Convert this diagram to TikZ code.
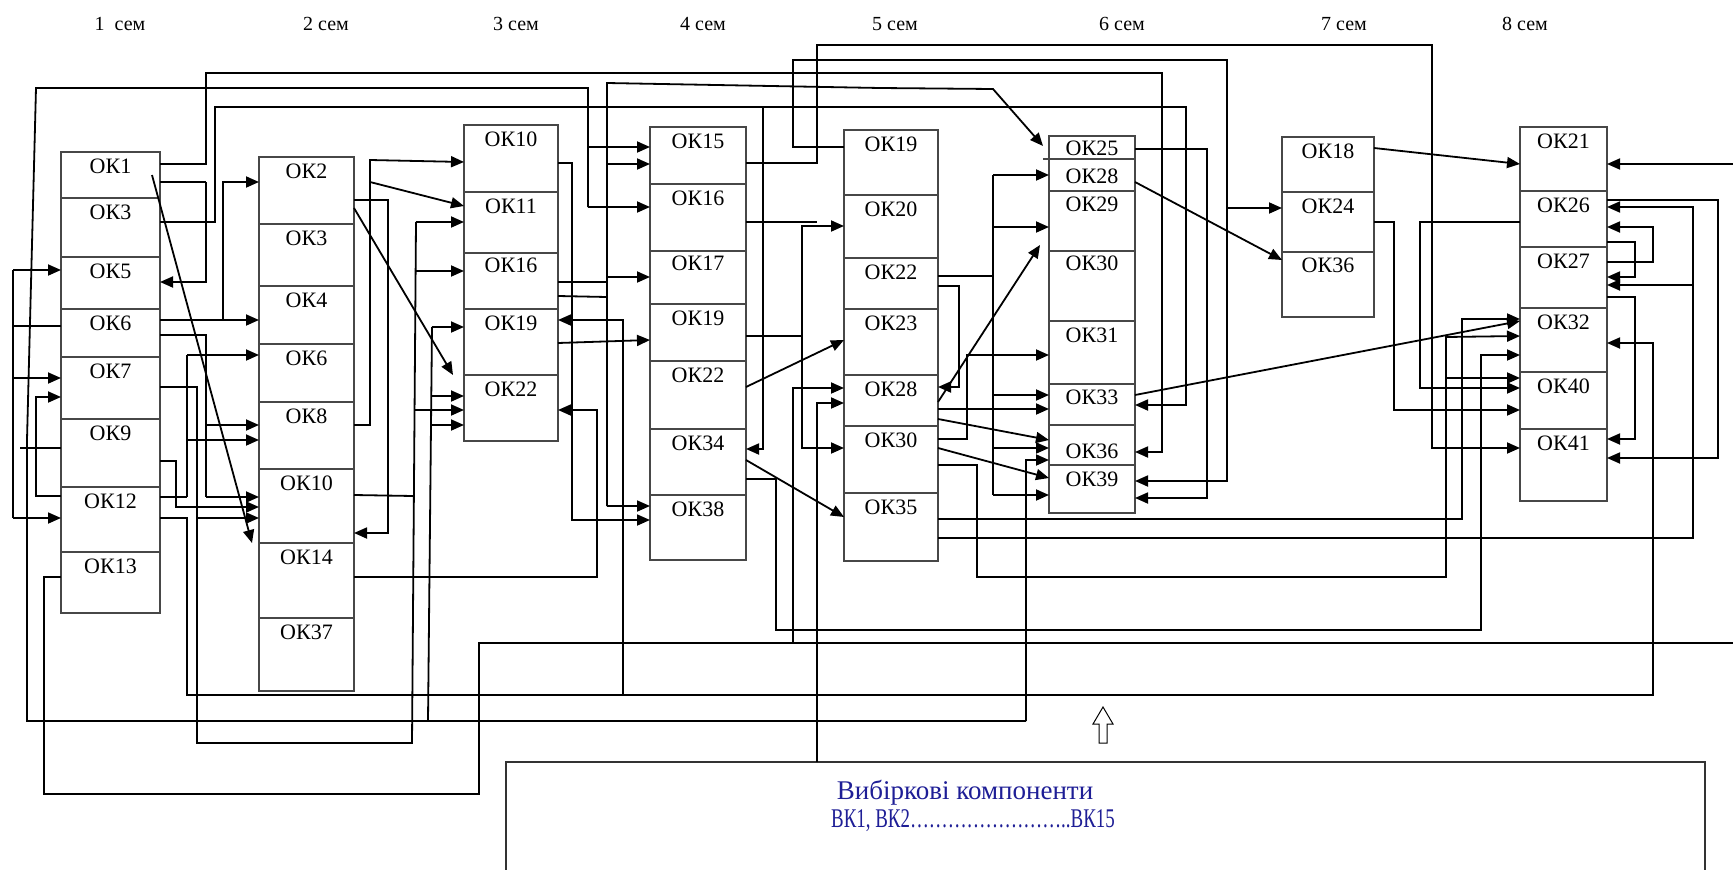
\documentclass[tikz,border=0pt]{standalone}
\usepackage{fontspec}
\usepackage{graphicx}
\setmainfont{Liberation Serif}
\usetikzlibrary{arrows.meta}
\definecolor{vkblue}{RGB}{30,30,150}
\newcommand\cellrow[7][14]{%
  \node[cell,minimum width={(#4-#3)*1pt},minimum height={(#6-#5)*1pt}] (#2) at (#3,#5) {};
  \node[lab] (#2t) at ({(#3+#4)/2},{#5+#1}) {#7};}
\begin{document}
\begin{tikzpicture}[x=1pt,y=-1pt,
  conn/.style={line width=1.8pt,black},
  arr/.style={conn,-{Triangle[length=13pt,width=11pt]}},
  cell/.style={draw=black!72,line width=1.1pt,anchor=north west,inner sep=0pt,outer sep=0pt},
  lab/.style={font=\fontsize{22}{25}\selectfont,inner sep=0pt},
  sem/.style={font=\fontsize{20}{22}\selectfont,inner sep=0pt},
  vk/.style={font=\fontsize{27}{30}\selectfont,text=vkblue,inner sep=0pt}]
\useasboundingbox (0,0) rectangle (1733,870);
\fill[white] (0,0) rectangle (1733,870);

% headers
\node[sem] (s1) at (120,24) {1\ \ сем};
\node[sem] (s2) at (326,24) {2 сем};
\node[sem] (s3) at (516,24) {3 сем};
\node[sem] (s4) at (703,24) {4 сем};
\node[sem] (s5) at (895,24) {5 сем};
\node[sem] (s6) at (1122,24) {6 сем};
\node[sem] (s7) at (1344,24) {7 сем};
\node[sem] (s8) at (1525,24) {8 сем};

% column 1
\cellrow{a1}{61}{160}{152}{198}{ОК1}
\cellrow{a2}{61}{160}{198}{257}{ОК3}
\cellrow{a3}{61}{160}{257}{309}{ОК5}
\cellrow{a4}{61}{160}{309}{357}{ОК6}
\cellrow{a5}{61}{160}{357}{419}{ОК7}
\cellrow{a6}{61}{160}{419}{487}{ОК9}
\cellrow{a7}{61}{160}{487}{552}{ОК12}
\cellrow{a8}{61}{160}{552}{613}{ОК13}
% column 2
\cellrow{b1}{259}{354}{157}{224}{ОК2}
\cellrow{b2}{259}{354}{224}{286}{ОК3}
\cellrow{b3}{259}{354}{286}{344}{ОК4}
\cellrow{b4}{259}{354}{344}{402}{ОК6}
\cellrow{b5}{259}{354}{402}{469}{ОК8}
\cellrow{b6}{259}{354}{469}{543}{ОК10}
\cellrow{b7}{259}{354}{543}{618}{ОК14}
\cellrow{b8}{259}{354}{618}{691}{ОК37}
% column 3
\cellrow{c1}{464}{558}{125}{192}{ОК10}
\cellrow{c2}{464}{558}{192}{253}{ОК11}
\cellrow[12]{c3}{464}{558}{253}{309}{ОК16}
\cellrow{c4}{464}{558}{309}{375}{ОК19}
\cellrow{c5}{464}{558}{375}{441}{ОК22}
% column 4
\cellrow{d1}{650}{746}{127}{184}{ОК15}
\cellrow{d2}{650}{746}{184}{251}{ОК16}
\cellrow[12]{d3}{650}{746}{251}{304}{ОК17}
\cellrow{d4}{650}{746}{304}{361}{ОК19}
\cellrow{d5}{650}{746}{361}{429}{ОК22}
\cellrow{d6}{650}{746}{429}{495}{ОК34}
\cellrow{d7}{650}{746}{495}{560}{ОК38}
% column 5
\cellrow{e1}{844}{938}{130}{195}{ОК19}
\cellrow{e2}{844}{938}{195}{258}{ОК20}
\cellrow{e3}{844}{938}{258}{309}{ОК22}
\cellrow{e4}{844}{938}{309}{375}{ОК23}
\cellrow{e5}{844}{938}{375}{426}{ОК28}
\cellrow{e6}{844}{938}{426}{493}{ОК30}
\cellrow{e7}{844}{938}{493}{561}{ОК35}
% column 6
\cellrow[12]{f1}{1049}{1135}{136}{159}{ОК25}
\cellrow[17]{f2}{1049}{1135}{159}{191}{ОК28}
\cellrow[13]{f3}{1049}{1135}{191}{251}{ОК29}
\cellrow[12]{f4}{1049}{1135}{251}{321}{ОК30}
\cellrow{f5}{1049}{1135}{321}{384}{ОК31}
\cellrow[13]{f6}{1049}{1135}{384}{425}{ОК33}
\cellrow[26]{f7}{1049}{1135}{425}{465}{ОК36}
\cellrow{f8}{1049}{1135}{465}{513}{ОК39}
\draw[draw=black!72,line width=1.1pt] (1043,159) -- (f1.south west);
% column 7
\cellrow{g1}{1282}{1374}{137}{192}{ОК18}
\cellrow{g2}{1282}{1374}{192}{252}{ОК24}
\cellrow[13]{g3}{1282}{1374}{252}{317}{ОК36}
% column 8
\cellrow{h1}{1520}{1607}{127}{191}{ОК21}
\cellrow{h2}{1520}{1607}{191}{247}{ОК26}
\cellrow{h3}{1520}{1607}{247}{308}{ОК27}
\cellrow{h4}{1520}{1607}{308}{372}{ОК32}
\cellrow{h5}{1520}{1607}{372}{429}{ОК40}
\cellrow{h6}{1520}{1607}{429}{501}{ОК41}

% ---------- connectors from column 1
\draw[arr] (a1.east|-0,164) -| (206,73) -| (1162,452) -- (f7.east|-0,452);
\draw[conn] (a1.east|-0,182) -- (206,182);
\draw[arr] (206,182) |- (a3.east|-0,282);
\draw[arr] (152,175) -- ([xshift=-7pt]b7.north west);
\draw[arr] (a2.east|-0,222) -| (215,107) -| (1186,405) -- (f6.east|-0,405);
\draw[arr] (763,107) |- (d6.east|-0,449);
\draw[conn] (a4.west|-0,326) -- (13,326);
\draw[conn] (13,270) -- (13,518);
\draw[arr] (13,270) -- (a3.west|-0,270);
\draw[arr] (13,378) -- (a5.west|-0,378);
\draw[arr] (13,518) -- (a7.west|-0,518);
\draw[arr] (a4.east|-0,320) -- (b3.west|-0,320);
\draw[arr] (223,320) |- (b1.west|-0,182);
\draw[conn] (a4.east|-0,335) -| (206,497);
\draw[arr] (206,425) -- (b5.west|-0,425);
\draw[arr] (206,497) -- (b6.west|-0,497);
\draw[conn] (a7.east|-0,497) -- (187,497);
\draw[conn] (187,355) -- (187,497);
\draw[arr] (187,355) -- (b4.west|-0,355);
\draw[arr] (187,440) -- (b5.west|-0,440);
\draw[arr] (a7.east|-0,518) -| (187,695) -| (1653,343) -- (h4.east|-0,343);
\draw[arr] (623,695) |- (c4.east|-0,320);
\draw[conn] (a5.east|-0,387) -| (197,743) -- (412,743) -- (416,222);
\draw[arr] (416,222) -- (c2.west|-0,222);
\draw[arr] (197,518) -- (b6.west|-0,518);
\draw[arr] (415,271) -- (c3.west|-0,271);
\draw[arr] (414,410) -- (c5.west|-0,410);
\draw[arr] (a6.east|-0,461) -| (176,507) -- (b6.west|-0,507);
\draw[conn] (20,448) -- (a6.west|-0,448);
\draw[arr] (a7.west|-0,496) -| (36,397) -- (a5.west|-0,397);
\draw[conn] (a8.west|-0,577) -| (44,794) -| (479,643) -- (1733,643);
\draw[arr] (793,643) |- (e5.west|-0,388);
\draw[conn] (1026,721) -- (27,721) -- (27,440) -- (36,88) -- (588,88) -- (588,207);
\draw[arr] (588,147) -- (d1.west|-0,147);
\draw[arr] (588,207) -- (d2.west|-0,207);
\draw[conn] (428,721) -- (432,327);
\draw[arr] (432,327) -- (c4.west|-0,327);
\draw[arr] (431,396) -- (c5.west|-0,396);
\draw[arr] (431,425) -- (c5.west|-0,425);

% ---------- column 2
\draw[arr] (b1.east|-0,208) -- ([xshift=-11pt]c5.north west);
\draw[arr] (b1.east|-0,200) -| (388,533) -- (b6.east|-0,533);
\draw[arr] (b5.east|-0,425) -| (370,160) -- (c1.west|-0,162);
\draw[arr] (370,182) -- (c2.west|-0,206);
\draw[conn] (b6.east|-0,495) -- (413,496);
\draw[arr] (b7.east|-0,577) -| (597,410) -- (c5.east|-0,410);

% ---------- column 3
\draw[arr] (c1.east|-0,163) -| (572,520) -- (d7.west|-0,520);
\draw[conn] (c3.east|-0,282) -- (607,282);
\draw[conn] (c3.east|-0,296) -- (607,297);
\draw[arr] (607,506) -- (607,83) -- (880,88) -- (993,89) -- ([shift={(-6,10)}]f1.north west);
\draw[arr] (607,164) -- (d1.west|-0,164);
\draw[arr] (607,277) -- (d3.west|-0,277);
\draw[arr] (607,506) -- (d7.west|-0,506);
\draw[arr] (c4.east|-0,343) -- (d4.west|-0,340);

% ---------- column 4
\draw[arr] (d1.east|-0,163) -| (817,45) -| (1432,448) -- (h6.west|-0,448);
\draw[conn] (d2.east|-0,222) -- (817,222);
\draw[conn] (d4.east|-0,336) -- (802,336);
\draw[arr] (802,336) |- (e2.west|-0,226);
\draw[arr] (802,336) |- (e6.west|-0,448);
\draw[arr] (d5.east|-0,387) -- (e4.west|-0,340);
\draw[arr] (d6.east|-0,460) -- (e7.west|-0,517);
\draw[arr] (d6.east|-0,479) -| (776,630) -| (1481,355) -- (h4.west|-0,355);

% ---------- column 5
\draw[arr] (e1.west|-0,147) -| (793,60) -| (1227,481) -- (f8.east|-0,481);
\draw[arr] (1227,208) -- (g2.west|-0,208);
\draw[conn] (e3.east|-0,276) -- (993,276);
\draw[conn] (993,175) -- (993,495);
\foreach \n/\y in {f2/175,f3/227,f6/395,f7/448,f8/495}
  \draw[arr] (993,\y) -- (\n.west|-0,\y);
\draw[arr] (e3.east|-0,286) -| (959,387) -- (e5.east|-0,387);
\draw[arr] (e6.east|-0,439) -| (967,355) -- (f5.west|-0,355);
\draw[arr] (e5.east|-0,402) -- ([shift={(-9,-6)}]f4.north west);
\draw[arr] (e5.east|-0,409) -- (f6.west|-0,409);
\draw[arr] (e5.east|-0,419) -- (f7.west|-0,440);
\draw[arr] (e6.east|-0,448) -- (f8.west|-0,478);
\draw[arr] (e6.east|-0,465) -| (977,577) -| (1446,337) -- (h4.west|-0,336);
\draw[arr] (1446,378) -- (h5.west|-0,378);
\draw[arr] (e7.east|-0,519) -| (1462,319) -- (h4.west|-0,319);
\draw[arr] (e7.east|-0,538) -| (1693,207) -- (h2.east|-0,207);
\draw[arr] (1693,285) -- (h3.east|-0,285);
\draw[arr] (1026,721) |- (f7.west|-0,460);

% ---------- column 6
\draw[arr] (f1.east|-0,149) -| (1207,498) -- (f8.east|-0,498);
\draw[arr] (f2.east|-0,182) -- (g3.west|-0,260);
\draw[arr] (f6.east|-0,395) -- (h4.west|-0,321);

% ---------- column 7
\draw[arr] (g1.east|-0,148) -- (h1.west|-0,164);
\draw[arr] (g2.east|-0,222) -| (1394,410) -- (h5.west|-0,410);
\draw[arr] (h2.west|-0,222) -| (1420,388) -- (h5.west|-0,388);

% ---------- column 8 right side
\draw[arr] (1733,164) -- (h1.east|-0,164);
\draw[arr] (h2.east|-0,200) -| (1718,458) -- (h6.east|-0,458);
\draw[arr] (h3.east|-0,262) -| (1653,227) -- (h2.east|-0,227);
\draw[arr] (h2.east|-0,242) -| (1635,277) -- (h3.east|-0,277);
\draw[arr] (h3.east|-0,297) -| (1635,439) -- (h6.east|-0,439);

% ---------- hollow arrow and elective box
\draw[line width=1pt,fill=white] (1099,743) -- (1099,724) -- (1093,724) -- (1103,707) -- (1113,724) -- (1107,724) -- (1107,743) -- cycle;
\node[draw=black!80,line width=1.3pt,anchor=north west,inner sep=0pt,outer sep=0pt,
  minimum width=1199pt,minimum height=130pt] (vkbox) at (506,762) {};
\draw[arr] (vkbox.north west -| 817,0) |- (e5.west|-0,403);
\node[vk] (vk1) at (965,793) {Вибіркові компоненти};
\node[vk] (vk2) at (973,821) {\scalebox{0.7}[1]{ВК1, ВК2……………………..ВК15}};
\end{tikzpicture}
\end{document}
